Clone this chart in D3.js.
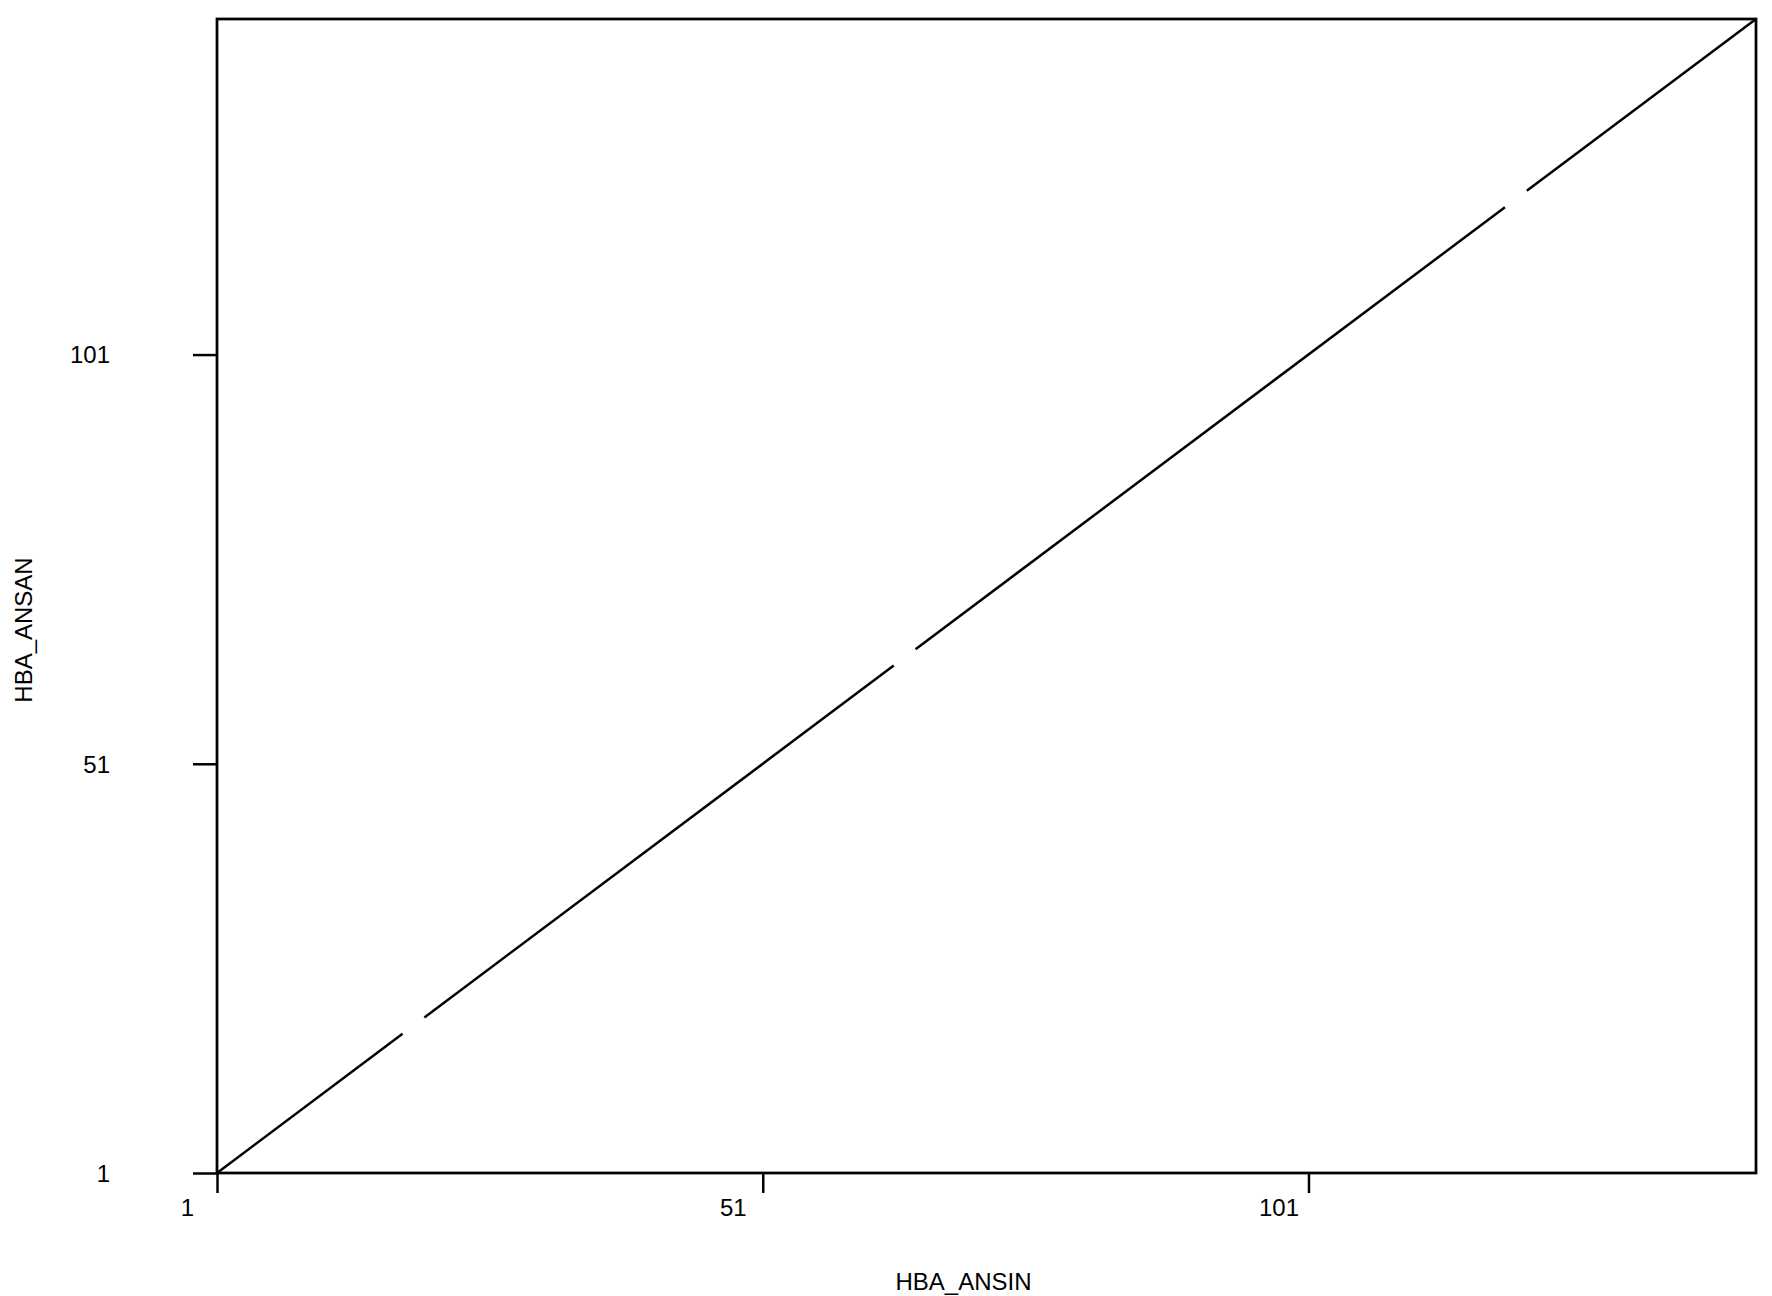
<!DOCTYPE html>
<html>
<head>
<meta charset="utf-8">
<script src="https://cdnjs.cloudflare.com/ajax/libs/d3/7.8.5/d3.min.js"></script>
<style>
  body { margin: 0; background: #fff; }
  text { font-family: "Liberation Sans", Arial, Helvetica, sans-serif; }
</style>
</head>
<body>
<svg id="dot_svg" width="1772" height="1296"></svg>
<script>
// sequence lengths (both axes)
var xName = "HBA_ANSIN"
var yName = "HBA_ANSAN"
var xLength = 142
var yLength = 142

// matching stretches on the diagonal (residue positions)
var segStart = [1, 20, 65, 121]
var segEnd = [18, 63, 119, 142]

// tick labels
var tickValues = [1, 51, 101]

var margin = {top: 19, right: 16, bottom: 123, left: 217},
    width = 1772 - margin.left - margin.right,
    height = 1296 - margin.top - margin.bottom;

const svg = d3.select("#dot_svg")
  .append("g")
  .attr("transform", `translate(${margin.left},${margin.top})`);

const x = d3.scaleLinear()
  .domain([1, xLength])
  .range([0, width]);

const y = d3.scaleLinear()
  .domain([1, yLength])
  .range([height, 0]);

// diagonal segments
var segs = segStart.map((s, i) => ({start: s, end: segEnd[i]}));
svg.selectAll("line.seg")
  .data(segs)
  .join("line")
  .attr("class", "seg")
  .attr("x1", d => x(d.start))
  .attr("y1", d => y(d.start))
  .attr("x2", d => x(d.end))
  .attr("y2", d => y(d.end))
  .attr("stroke", "black")
  .attr("stroke-width", 2.5)
  .attr("stroke-linecap", "butt");

// X axis ticks
const xAxis = svg.append("g")
  .attr("transform", `translate(0,${height})`)
  .call(d3.axisBottom(x).tickValues(tickValues).tickSize(20).tickFormat(d3.format("d")));
xAxis.select(".domain").remove();
xAxis.selectAll("line").attr("stroke-width", 2.5);
xAxis.selectAll("text")
  .attr("font-size", "24px")
  .attr("fill", "black")
  .attr("font-family", "Liberation Sans, Arial, sans-serif")
  .attr("x", -30)
  .attr("y", 43)
  .attr("dy", 0);

// Y axis ticks
const yAxis = svg.append("g")
  .call(d3.axisLeft(y).tickValues(tickValues).tickSize(24).tickFormat(d3.format("d")));
yAxis.select(".domain").remove();
yAxis.selectAll("line").attr("stroke-width", 2.5);
yAxis.selectAll("text")
  .attr("font-size", "24px")
  .attr("fill", "black")
  .attr("font-family", "Liberation Sans, Arial, sans-serif")
  .attr("x", -107)
  .attr("dy", "0.35em");

// frame
svg.append("rect")
  .attr("x", 0)
  .attr("y", 0)
  .attr("width", width)
  .attr("height", height)
  .attr("fill", "none")
  .attr("stroke", "black")
  .attr("stroke-width", 2.75);

// axis titles
svg.append("text")
  .attr("x", width / 2 - 23)
  .attr("y", height + 117)
  .attr("text-anchor", "middle")
  .attr("font-size", "24px")
  .text(xName);

svg.append("text")
  .attr("transform", `translate(${32 - margin.left},${height / 2 + 34}) rotate(-90)`)
  .attr("text-anchor", "middle")
  .attr("font-size", "24px")
  .text(yName);
</script>
</body>
</html>
